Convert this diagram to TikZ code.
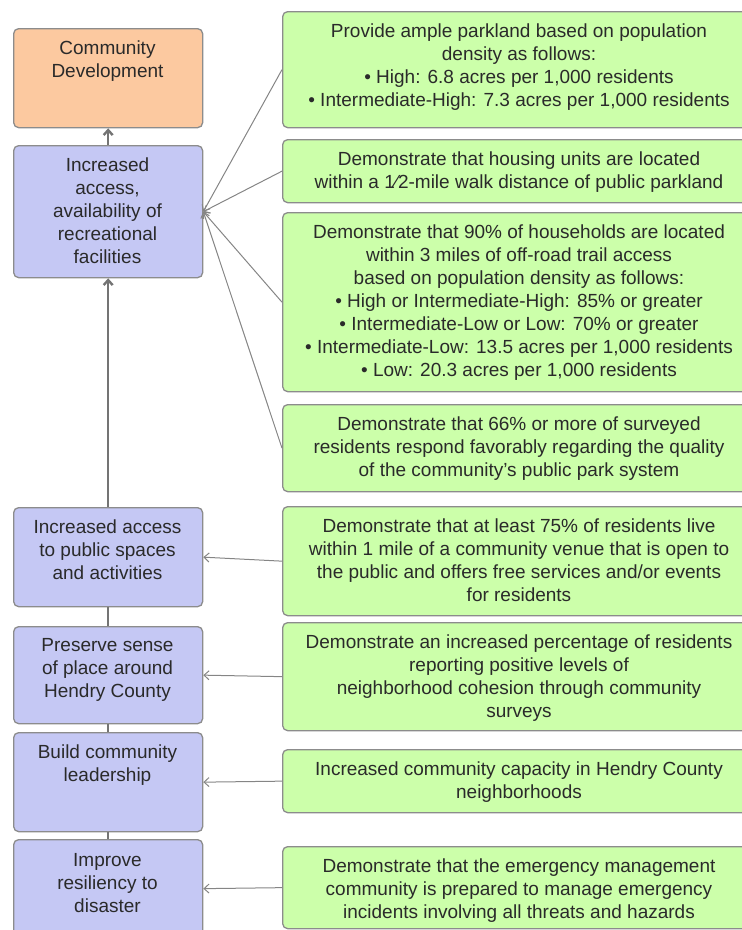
\documentclass[tikz,border=0pt]{standalone}
\usepackage{fontspec}
\setmainfont{Liberation Sans}
\usetikzlibrary{arrows.meta}
\definecolor{orangec}{HTML}{FCC9A0}
\definecolor{bluec}{HTML}{C5C8F4}
\definecolor{greenc}{HTML}{CCFFAA}
\definecolor{bordc}{HTML}{8C8C8C}
\definecolor{linec}{HTML}{858585}
\definecolor{spinec}{HTML}{747474}
\definecolor{txtc}{HTML}{2A2A2A}
\tikzset{
  base/.style={draw=bordc, line width=1.3pt, rounded corners=5pt, inner sep=0pt, anchor=north west},
  goal/.style={base, fill=orangec},
  obj/.style={base, fill=bluec, minimum width=189pt},
  meas/.style={base, fill=greenc, minimum width=480pt},
  txt/.style={anchor=north, align=center, inner sep=0pt, text=txtc, font=\fontsize{19}{23}\selectfont},
  feed/.style={draw=linec, line width=1pt, -{Straight Barb[length=5pt,width=9pt]}},
  spine/.style={draw=spinec, line width=2.4pt},
  spinearrow/.style={spine, -{Straight Barb[length=5pt,width=9pt]}},
}
\begin{document}
\begin{tikzpicture}[x=1pt,y=-1pt]
\path[use as bounding box] (0,0) rectangle (742,930);
\clip (0,0) rectangle (742,930);
% left column
\node[goal, minimum width=189pt, minimum height=99pt] (cd) at (13,28) {};
\node[txt] (cd-t) at (107.5,40.5) {Community\\Development};
\node[obj, minimum height=132pt] (rec) at (13,145) {};
\node[txt] (rec-t) at (107.5,157.5) {Increased\\access,\\availability of\\recreational\\facilities};
\node[obj, minimum height=99pt] (acc) at (13,507) {};
\node[txt] (acc-t) at (107.5,519.5) {Increased access\\to public spaces\\and activities};
\node[obj, minimum height=97pt] (pres) at (13,626) {};
\node[txt] (pres-t) at (107.5,638.5) {Preserve sense\\of place around\\Hendry County};
\node[obj, minimum height=99pt] (lead) at (13,732) {};
\node[txt] (lead-t) at (107.5,744.5) {Build community\\leadership};
\node[obj, minimum height=98pt] (res) at (13,839) {};
\node[txt] (res-t) at (107.5,853) {Improve\\resiliency to\\disaster};
% right column
\node[meas, minimum height=116pt] (m1) at (282,11) {};
\node[txt] (m1-t) at (519,23.5) {Provide ample parkland based on population\\density as follows:\\• High: 6.8 acres per 1,000 residents\\• Intermediate-High: 7.3 acres per 1,000 residents};
\node[meas, minimum height=63pt] (m2) at (282,139) {};
\node[txt] (m2-t) at (519,151.5) {Demonstrate that housing units are located\\within a 1⁄2-mile walk distance of public parkland};
\node[meas, minimum height=179pt] (m3) at (282,212) {};
\node[txt] (m3-t) at (519,224.5) {Demonstrate that 90\% of households are located\\within 3 miles of off-road trail access\\based on population density as follows:\\• High or Intermediate-High: 85\% or greater\\• Intermediate-Low or Low: 70\% or greater\\• Intermediate-Low: 13.5 acres per 1,000 residents\\• Low: 20.3 acres per 1,000 residents};
\node[meas, minimum height=87pt] (m4) at (282,404) {};
\node[txt] (m4-t) at (519,416.5) {Demonstrate that 66\% or more of surveyed\\residents respond favorably regarding the quality\\of the community’s public park system};
\node[meas, minimum height=109pt] (m5) at (282,506) {};
\node[txt] (m5-t) at (519,518.5) {Demonstrate that at least 75\% of residents live\\within 1 mile of a community venue that is open to\\the public and offers free services and/or events\\for residents};
\node[meas, minimum height=108pt] (m6) at (282,622) {};
\node[txt] (m6-t) at (519,634.5) {Demonstrate an increased percentage of residents\\reporting positive levels of\\neighborhood cohesion through community\\surveys};
\node[meas, minimum height=63pt] (m7) at (282,749) {};
\node[txt] (m7-t) at (519,761.5) {Increased community capacity in Hendry County\\neighborhoods};
\node[meas, minimum height=82pt] (m8) at (282,846) {};
\node[txt] (m8-t) at (519,858.5) {Demonstrate that the emergency management\\community is prepared to manage emergency\\incidents involving all threats and hazards};
% spine
\draw[spinearrow] (rec.north) -- (cd.south);
\draw[spinearrow] (acc.north) -- (rec.south);
\draw[spine] (pres.north) -- (acc.south);
\draw[spine] (lead.north) -- (pres.south);
\draw[spine] (res.north) -- (lead.south);
% feeds
\draw[feed] (m1.west) -- (rec.east);
\draw[feed] (m2.west) -- (rec.east);
\draw[feed] (m3.west) -- (rec.east);
\draw[feed] (m4.west) -- (rec.east);
\draw[feed] (m5.west) -- (acc.east);
\draw[feed] (m6.west) -- (pres.east);
\draw[feed] (m7.west) -- (lead.east);
\draw[feed] (m8.west) -- (res.east);
\end{tikzpicture}
\end{document}
